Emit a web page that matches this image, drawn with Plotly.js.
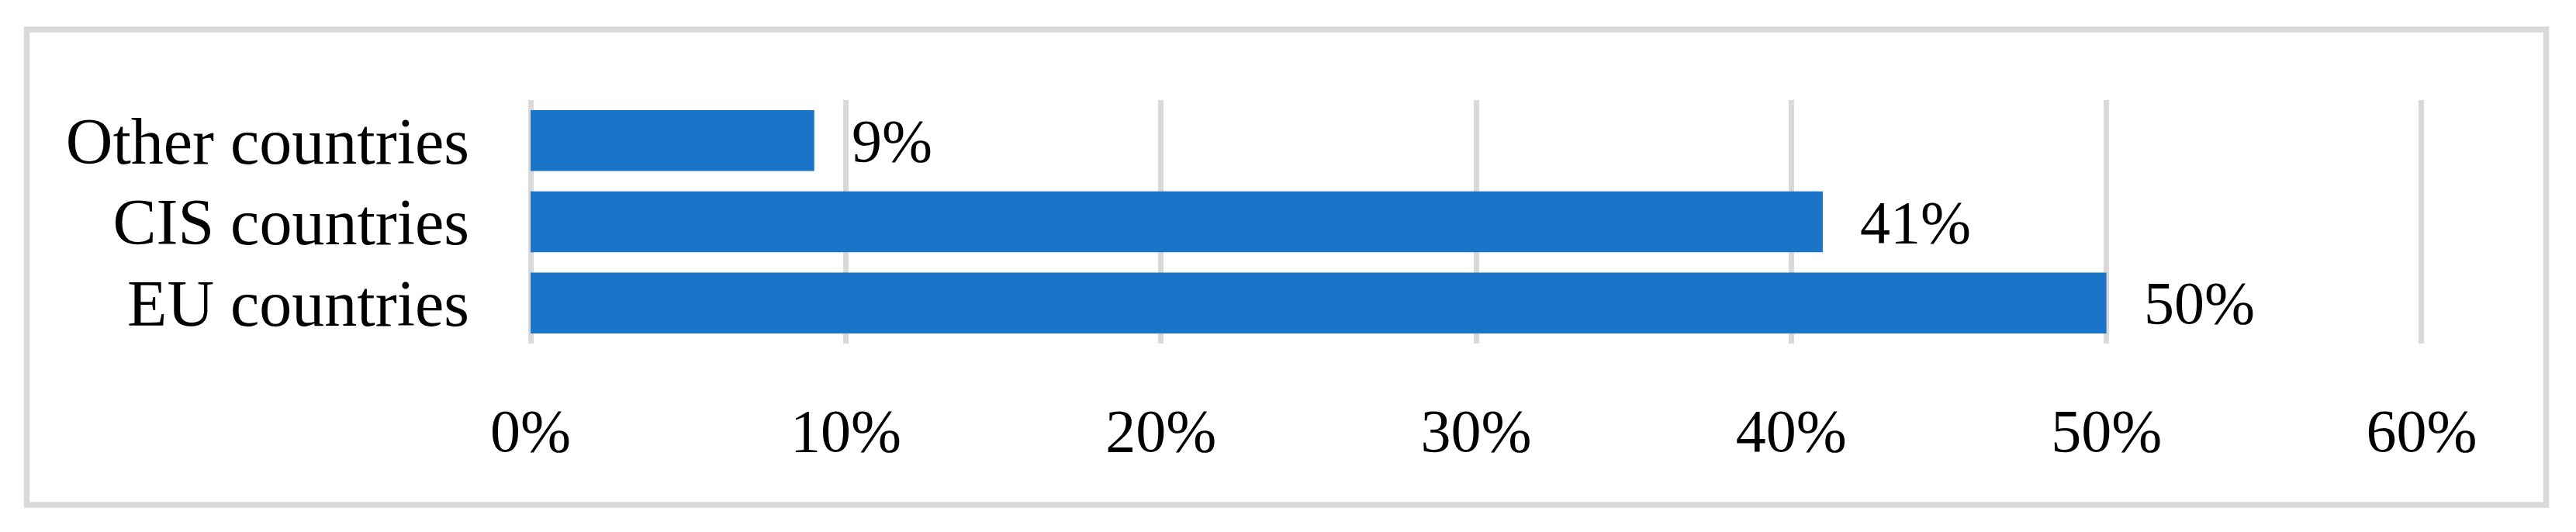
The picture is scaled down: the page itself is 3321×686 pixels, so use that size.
<!DOCTYPE html>
<html>
<head>
<meta charset="utf-8">
<script src="https://cdn.plot.ly/plotly-3.0.1.min.js"></script>
<style>
  html, body { margin: 0; padding: 0; background: #ffffff; }
  #chart { width: 3321px; height: 686px; }
</style>
</head>
<body>
<div id="chart"></div>
<script>
// Data (bottom to top, as plotly stacks categories upward)
var categories = ['EU countries', 'CIS countries', 'Other countries'];
var shares = [50, 41, 9];
var tickValues = [0, 10, 20, 30, 40, 50, 60];
var tickLabels = ['0%', '10%', '20%', '30%', '40%', '50%', '60%'];

(function () {
    'use strict';

    var W = 3321, H = 686;
    var M = { l: 680, r: 195, t: 129, b: 243 };
    var pw = W - M.l - M.r;
    var ph = H - M.t - M.b;
    var family = '"Palatino Linotype", "Book Antiqua", Palatino, "Liberation Serif", serif';
    var font = { family: family, size: 78, color: '#000000' };
    var catFont = { family: family, size: 84, color: '#000000' };

    // pixel -> paper coords, used for the outer frame
    function px2x(px) { return (px - M.l) / pw; }
    function py2y(py) { return (H - M.b - py) / ph; }

    var trace = {
        type: 'bar',
        orientation: 'h',
        x: shares,
        y: categories,
        marker: { color: '#1a74c8' },
        hoverinfo: 'none'
    };

    var labels = shares.map(function (v, i) {
        return {
            x: v,
            y: categories[i],
            xref: 'x',
            yref: 'y',
            text: v + '%',
            showarrow: false,
            xanchor: 'left',
            yanchor: 'middle',
            xshift: 46,
            font: font
        };
    });

    var layout = {
        width: W,
        height: H,
        margin: M,
        bargap: 0.25,
        showlegend: false,
        paper_bgcolor: '#ffffff',
        plot_bgcolor: 'rgba(0,0,0,0)',
        font: font,
        xaxis: {
            // small padding so plotly keeps the 0% and 60% gridlines
            range: [-0.1, 60.1],
            tickvals: tickValues,
            ticktext: tickLabels,
            showgrid: true,
            gridcolor: '#d9d9d9',
            gridwidth: 7,
            zeroline: false,
            showline: false,
            ticks: '',
            ticklabelstandoff: 60,
            tickfont: font,
            fixedrange: true
        },
        yaxis: {
            showgrid: false,
            zeroline: false,
            showline: false,
            ticks: '',
            ticklabelstandoff: 74,
            tickfont: catFont,
            fixedrange: true
        },
        annotations: labels,
        shapes: [{
            type: 'rect',
            xref: 'paper',
            yref: 'paper',
            x0: px2x(34.5),
            x1: px2x(3282.5),
            y0: py2y(651),
            y1: py2y(38),
            line: { color: '#d9d9d9', width: 7.5 },
            fillcolor: 'rgba(0,0,0,0)',
            layer: 'below'
        }]
    };

    Plotly.newPlot('chart', [trace], layout, { displayModeBar: false, staticPlot: true });
})();
</script>
</body>
</html>
